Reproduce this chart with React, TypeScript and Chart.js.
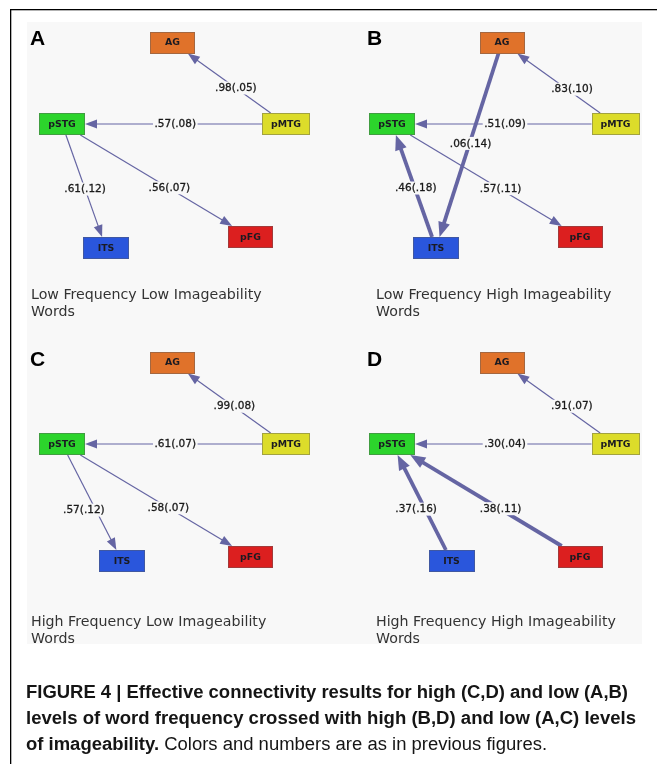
import { useEffect, useRef } from 'react';
import { Chart, registerables } from 'chart.js';

Chart.register(...registerables);

// ---------- data ----------
const panelLetters = ['A', 'B', 'C', 'D'];
const panelTitles = [
  ['Low Frequency Low Imageability', 'Words'],
  ['Low Frequency High Imageability', 'Words'],
  ['High Frequency Low Imageability', 'Words'],
  ['High Frequency High Imageability', 'Words'],
];
const nodeNames = ['AG', 'pSTG', 'pMTG', 'ITS', 'pFG'];
const nodeColors = ['#e0722a', '#2cd42c', '#dcdc2a', '#2a56dc', '#dc1f1f'];

// edges: source index -> target index, path coefficient (standard error)
const edgeFrom = [
  [2, 2, 1, 1],
  [2, 2, 0, 3, 1],
  [2, 2, 1, 1],
  [2, 2, 3, 4],
];
const edgeTo = [
  [0, 1, 3, 4],
  [0, 1, 3, 1, 4],
  [0, 1, 3, 4],
  [0, 1, 1, 1],
];
const edgeWeights = [
  [0.98, 0.57, 0.61, 0.56],
  [0.83, 0.51, 0.06, 0.46, 0.57],
  [0.99, 0.61, 0.57, 0.58],
  [0.91, 0.3, 0.37, 0.38],
];
const edgeSE = [
  [0.05, 0.08, 0.12, 0.07],
  [0.1, 0.09, 0.14, 0.18, 0.11],
  [0.08, 0.07, 0.12, 0.07],
  [0.07, 0.04, 0.16, 0.11],
];
const edgeEmphasis = [
  [false, false, false, false],
  [false, false, true, true, false],
  [false, false, false, false],
  [false, false, true, true],
];

const captionLines = [
  [{ text: 'FIGURE 4 | Effective connectivity results for high (C,D) and low (A,B)', bold: true }],
  [{ text: 'levels of word frequency crossed with high (B,D) and low (A,C) levels', bold: true }],
  [
    { text: 'of imageability.', bold: true },
    { text: ' Colors and numbers are as in previous figures.', bold: false },
  ],
];

// ---------- layout ----------
const panelOriginX = [0, 329.5, 0, 329.5];
const panelOriginY = [0, 0, 320, 320];
const nodeX = [
  [172.5, 62, 286, 106, 250.5],
  [172.5, 62.5, 286, 106.5, 250.5],
  [172.5, 62, 286, 122, 250.5],
  [172.5, 62.5, 286, 122, 250.5],
];
const nodeY = [
  [42.5, 124, 124, 248, 237],
  [42.5, 124, 124, 248, 237],
  [42.5, 124, 124, 241, 237],
  [42.5, 124, 124, 241, 237],
];
const nodeW = [45, 46, 48, 46, 45];
const nodeH = 22;
const labelT = [
  [0.42, 0.49, 0.53, 0.58],
  [0.4, 0.49, 0.49, 0.48, 0.59],
  [0.45, 0.49, 0.58, 0.58],
  [0.45, 0.49, 0.43, 0.41],
];
const labelDX = [
  [0, 0, 0, 1],
  [5, 0, 1, 1, 1],
  [1, 0, -12, 0],
  [9, 0, -9, 1],
];
const letterX = [30, 367, 30, 367];
const letterY = [45, 45, 366, 366];
const titleX = [31, 376, 31, 376];
const titleY = [299, 299, 626, 626];
const captionWidths = [602, 610, 521];

const PANEL_BG = '#f8f8f8';
const EDGE_COLOR = '#6565a3';
const CAP_FAMILY = '"Liberation Sans", Arial, sans-serif';
const CAP_SIZE = 18;

const fmt = (v: number) => v.toFixed(2).replace(/^0/, '');

let measureCtx: CanvasRenderingContext2D | null = null;
function measure(text: string, bold: boolean) {
  if (!measureCtx) measureCtx = document.createElement('canvas').getContext('2d');
  if (!measureCtx) return text.length * 8;
  measureCtx.font = `${bold ? 'bold ' : ''}${CAP_SIZE}px ${CAP_FAMILY}`;
  return measureCtx.measureText(text).width;
}

const diagramPlugin = {
  id: 'diagram',
  beforeDatasetsDraw(chart: any) {
    const { ctx } = chart;
    const sx = chart.scales.x;
    const sy = chart.scales.y;
    ctx.save();
    ctx.fillStyle = '#ffffff';
    ctx.fillRect(0, 0, chart.width, chart.height);
    const x0 = sx.getPixelForValue(27);
    const x1 = sx.getPixelForValue(642);
    const y0 = sy.getPixelForValue(22);
    const y1 = sy.getPixelForValue(644);
    ctx.fillStyle = PANEL_BG;
    ctx.fillRect(x0, y0, x1 - x0, y1 - y0);
    ctx.fillStyle = '#000';
    ctx.fillRect(sx.getPixelForValue(10), sy.getPixelForValue(9), 1.3, chart.height);
    ctx.fillRect(sx.getPixelForValue(10), sy.getPixelForValue(9), chart.width, 1.3);
    ctx.restore();
  },
  afterDatasetsDraw(chart: any) {
    const { ctx } = chart;
    const sx = chart.scales.x;
    const sy = chart.scales.y;
    const dX = (v: number) => sx.getPixelForValue(v) - sx.getPixelForValue(0);
    const pxW = (v: number) => Math.abs(dX(v));
    const pxH = (v: number) => Math.abs(sy.getPixelForValue(v) - sy.getPixelForValue(0));
    ctx.save();
    for (let p = 0; p < panelLetters.length; p++) {
      const meta = chart.getDatasetMeta(p);
      const pts = meta.data.map((e: any) => ({ x: e.x, y: e.y }));
      const hw = nodeW.map((w) => pxW(w) / 2);
      const hh = pxH(nodeH) / 2;
      const exitT = (dx: number, dy: number, w: number, h: number) => {
        const tx = dx !== 0 ? w / Math.abs(dx) : Infinity;
        const ty = dy !== 0 ? h / Math.abs(dy) : Infinity;
        return Math.min(tx, ty);
      };
      const labels: { x: number; y: number; text: string }[] = [];
      for (let k = 0; k < edgeFrom[p].length; k++) {
        const f = edgeFrom[p][k];
        const t = edgeTo[p][k];
        const a = pts[f];
        const b = pts[t];
        const dx = b.x - a.x;
        const dy = b.y - a.y;
        const t0 = exitT(dx, dy, hw[f], hh);
        const t1 = 1 - exitT(dx, dy, hw[t], hh);
        const sxp = a.x + dx * t0;
        const syp = a.y + dy * t0;
        const tipX = a.x + dx * t1;
        const tipY = a.y + dy * t1;
        const len = Math.hypot(tipX - sxp, tipY - syp);
        const ux = (tipX - sxp) / len;
        const uy = (tipY - syp) / len;
        const thick = edgeEmphasis[p][k];
        const L = thick ? 15 : 12;
        const W = thick ? 6 : 4.5;
        const bxp = tipX - ux * L;
        const byp = tipY - uy * L;
        ctx.strokeStyle = EDGE_COLOR;
        ctx.fillStyle = EDGE_COLOR;
        ctx.lineWidth = thick ? 3.8 : 1.2;
        ctx.lineCap = 'butt';
        ctx.beginPath();
        ctx.moveTo(sxp, syp);
        ctx.lineTo(bxp + ux, byp + uy);
        ctx.stroke();
        ctx.beginPath();
        ctx.moveTo(tipX, tipY);
        ctx.lineTo(bxp - uy * W, byp + ux * W);
        ctx.lineTo(bxp + uy * W, byp - ux * W);
        ctx.closePath();
        ctx.fill();
        const lt = labelT[p][k];
        labels.push({
          x: sxp + (tipX - sxp) * lt + dX(labelDX[p][k]),
          y: syp + (tipY - syp) * lt,
          text: `${fmt(edgeWeights[p][k])}(${fmt(edgeSE[p][k])})`,
        });
      }
      ctx.font = '10.5px "DejaVu Sans"';
      ctx.textAlign = 'center';
      ctx.textBaseline = 'middle';
      for (const l of labels) {
        const w = ctx.measureText(l.text).width;
        ctx.fillStyle = PANEL_BG;
        ctx.fillRect(l.x - w / 2 - 1.5, l.y - 6.5, w + 3, 13);
        ctx.fillStyle = '#1a1a1a';
        ctx.strokeStyle = '#1a1a1a';
        ctx.lineWidth = 0.3;
        ctx.fillText(l.text, l.x, l.y + 0.5);
        ctx.strokeText(l.text, l.x, l.y + 0.5);
      }
      for (let n = 0; n < nodeNames.length; n++) {
        const c = pts[n];
        const x = Math.round(c.x - hw[n]);
        const y = Math.round(c.y - hh);
        const w = Math.round(hw[n] * 2);
        const h = Math.round(hh * 2);
        ctx.fillStyle = nodeColors[n];
        ctx.fillRect(x, y, w, h);
        ctx.strokeStyle = 'rgba(90,90,90,0.45)';
        ctx.lineWidth = 1;
        ctx.strokeRect(x + 0.5, y + 0.5, w - 1, h - 1);
        ctx.fillStyle = '#1a1a22';
        ctx.font = 'bold 9.4px "DejaVu Sans"';
        ctx.textAlign = 'center';
        ctx.textBaseline = 'middle';
        ctx.fillText(nodeNames[n], c.x, c.y + 0.5);
      }
      ctx.fillStyle = '#000';
      ctx.font = 'bold 21px "Liberation Sans"';
      ctx.textAlign = 'left';
      ctx.textBaseline = 'alphabetic';
      ctx.fillText(panelLetters[p], sx.getPixelForValue(letterX[p]), sy.getPixelForValue(letterY[p]));
      ctx.fillStyle = '#333333';
      ctx.font = '14.2px "DejaVu Sans"';
      panelTitles[p].forEach((line, i) => {
        ctx.fillText(line, sx.getPixelForValue(titleX[p]), sy.getPixelForValue(titleY[p] + i * 17));
      });
    }
    ctx.restore();
  },
};

export default function App() {
  const ref = useRef<HTMLCanvasElement>(null);
  useEffect(() => {
    const datasets = panelLetters.map((letter, p) => ({
      label: letter,
      data: nodeNames.map((_, n) => ({
        x: panelOriginX[p] + nodeX[p][n],
        y: panelOriginY[p] + nodeY[p][n],
      })),
      pointRadius: 0,
      pointHoverRadius: 0,
      showLine: false,
    }));
    const chart = new Chart(ref.current as HTMLCanvasElement, {
      type: 'scatter',
      data: { datasets },
      options: {
        animation: false,
        responsive: false,
        events: [],
        layout: { padding: 0 },
        plugins: { legend: { display: false }, tooltip: { enabled: false } },
        scales: {
          x: { type: 'linear', min: 0, max: 657, display: false },
          y: { type: 'linear', min: 0, max: 764, reverse: true, display: false },
        },
      },
      plugins: [diagramPlugin],
    });
    return () => chart.destroy();
  }, []);

  return (
    <div style={{ position: 'absolute', left: 0, top: 0, width: 657, height: 764, background: '#fff', overflow: 'hidden' }}>
      <canvas ref={ref} width={657} height={764} style={{ position: 'absolute', left: 0, top: 0, width: 657, height: 764 }} />
      <div
        style={{
          position: 'absolute',
          left: 26,
          top: 679,
          fontFamily: CAP_FAMILY,
          fontSize: CAP_SIZE,
          lineHeight: '26px',
          color: '#151515',
          whiteSpace: 'nowrap',
        }}
      >
        {captionLines.map((segs, i) => {
          const natural = segs.reduce((s, g) => s + measure(g.text, g.bold), 0);
          const k = captionWidths[i] / natural;
          return (
            <div key={i} style={{ transform: `scaleX(${k})`, transformOrigin: 'left center', height: 26 }}>
              {segs.map((g, j) => (
                <span key={j} style={{ fontWeight: g.bold ? 700 : 400 }}>
                  {g.text}
                </span>
              ))}
            </div>
          );
        })}
      </div>
    </div>
  );
}
